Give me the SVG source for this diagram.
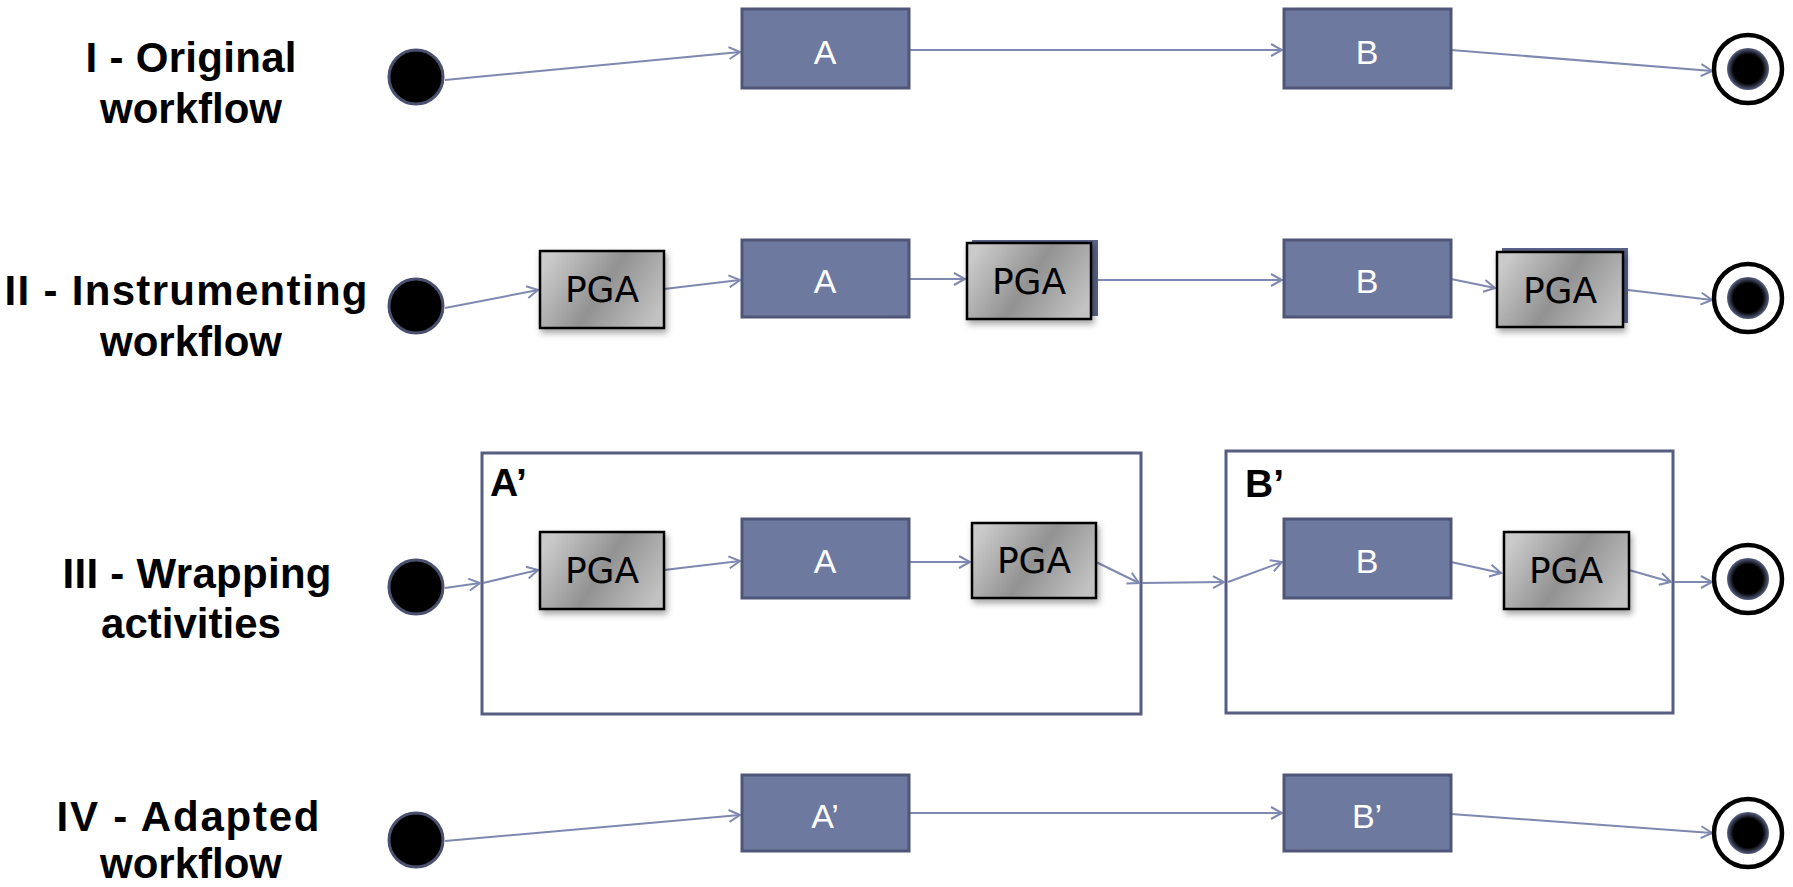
<svg xmlns="http://www.w3.org/2000/svg" width="1793" height="887" viewBox="0 0 1793 887">
<defs>
<linearGradient id="pgaGrad" x1="0" y1="0.3" x2="1" y2="0.7">
<stop offset="0" stop-color="#cacaca"/>
<stop offset="0.5" stop-color="#929292"/>
<stop offset="1" stop-color="#c2c2c2"/>
</linearGradient>
<radialGradient id="dotGrad" cx="0.5" cy="0.5" r="0.5">
<stop offset="0.7" stop-color="#000"/>
<stop offset="1" stop-color="#5a6284"/>
</radialGradient>
<filter id="shadow" x="-10%" y="-10%" width="130%" height="140%">
<feDropShadow dx="2" dy="4" stdDeviation="3" flood-color="#000" flood-opacity="0.35"/>
</filter>
<marker id="arr" markerUnits="userSpaceOnUse" markerWidth="14" markerHeight="14" refX="12" refY="7" orient="auto" viewBox="0 0 14 14">
<path d="M1,1 L12,7 L1,13" fill="none" stroke="#7f88b0" stroke-width="2"/>
</marker>
</defs>
<style>
.lbl{font-family:"Liberation Sans",Arial,sans-serif;font-weight:bold;font-size:42px;fill:#000;text-anchor:middle}
.cl{font-family:"Liberation Sans",Arial,sans-serif;font-weight:bold;font-size:39px;fill:#000}
.act rect{fill:#6e79a0;stroke:#4f5678;stroke-width:3}
.act text{font-family:"Liberation Sans",Arial,sans-serif;font-size:34px;fill:#fff;text-anchor:middle}
.pga rect.g{fill:url(#pgaGrad);stroke:#000;stroke-width:2.5;filter:url(#shadow)}
.pga rect.b{fill:#5a6388}
.pga text{font-family:"DejaVu Sans","Liberation Sans",sans-serif;font-size:36px;fill:#000;text-anchor:middle}
.start{fill:#000;stroke:#4a506e;stroke-width:3}
.endo{fill:#fff;stroke:#000;stroke-width:4.5}
.endi{fill:url(#dotGrad)}
.cont{fill:none;stroke:#565d80;stroke-width:3}
.conn path{fill:none;stroke:#7f88b0;stroke-width:2;marker-end:url(#arr)}
</style>
<rect width="1793" height="887" fill="#fff"/>

<g id="labels">
<text class="lbl" x="191" y="72" textLength="211">I - Original</text>
<text class="lbl" x="191" y="123">workflow</text>
<text class="lbl" x="186" y="305" textLength="363">II - Instrumenting</text>
<text class="lbl" x="191" y="356">workflow</text>
<text class="lbl" x="197" y="588" textLength="269">III - Wrapping</text>
<text class="lbl" x="191" y="638">activities</text>
<text class="lbl" x="188" y="831" textLength="263">IV - Adapted</text>
<text class="lbl" x="191" y="878">workflow</text>
</g>

<g id="container-A-prime"><rect class="cont" x="482" y="453" width="659" height="261"/><text class="cl" x="490" y="496">A’</text></g>
<g id="container-B-prime"><rect class="cont" x="1226" y="451" width="447" height="262"/><text class="cl" x="1245" y="497">B’</text></g>

<g id="connectors" class="conn">
<path d="M445,80 L740,52"/>
<path d="M909,50 L1282,50"/>
<path d="M1451,50 L1712,71"/>
<path d="M445,308 L538,290"/>
<path d="M664,289 L740,280"/>
<path d="M909,279 L965,279"/>
<path d="M1096,280 L1282,280"/>
<path d="M1451,279 L1495,288"/>
<path d="M1628,290 L1712,300"/>
<path d="M445,588 L480,583"/>
<path d="M483,583 L538,570"/>
<path d="M664,570 L740,561"/>
<path d="M909,562 L970,562"/>
<path d="M1096,562 L1139,583"/>
<path d="M1142,583 L1224,582"/>
<path d="M1228,582 L1282,562"/>
<path d="M1451,562 L1501,573"/>
<path d="M1629,570 L1671,582"/>
<path d="M1674,582 L1712,582"/>
<path d="M445,841 L740,815"/>
<path d="M909,813 L1282,813"/>
<path d="M1451,814 L1712,833"/>
</g>

<g id="start1"><circle class="start" cx="416" cy="77" r="27"/></g>
<g id="start2"><circle class="start" cx="416" cy="306" r="27"/></g>
<g id="start3"><circle class="start" cx="416" cy="587" r="27"/></g>
<g id="start4"><circle class="start" cx="416" cy="840" r="27"/></g>

<g id="end1"><circle class="endo" cx="1748" cy="69" r="34"/><circle class="endi" cx="1748" cy="69" r="21"/></g>
<g id="end2"><circle class="endo" cx="1748" cy="298" r="34"/><circle class="endi" cx="1748" cy="298" r="21"/></g>
<g id="end3"><circle class="endo" cx="1748" cy="579" r="34"/><circle class="endi" cx="1748" cy="579" r="21"/></g>
<g id="end4"><circle class="endo" cx="1748" cy="833" r="34"/><circle class="endi" cx="1748" cy="833" r="21"/></g>

<g id="A1" class="act"><rect x="742" y="9" width="167" height="79"/><text x="825" y="64">A</text></g>
<g id="B1" class="act"><rect x="1284" y="9" width="167" height="79"/><text x="1367" y="64">B</text></g>
<g id="A2" class="act"><rect x="742" y="240" width="167" height="77"/><text x="825" y="293">A</text></g>
<g id="B2" class="act"><rect x="1284" y="240" width="167" height="77"/><text x="1367" y="293">B</text></g>
<g id="A3" class="act"><rect x="742" y="519" width="167" height="79"/><text x="825" y="573">A</text></g>
<g id="B3" class="act"><rect x="1284" y="519" width="167" height="79"/><text x="1367" y="573">B</text></g>
<g id="A4" class="act"><rect x="742" y="775" width="167" height="76"/><text x="825" y="828">A’</text></g>
<g id="B4" class="act"><rect x="1284" y="775" width="167" height="76"/><text x="1367" y="828">B’</text></g>

<g id="PGA1" class="pga"><rect class="g" x="540" y="251" width="124" height="77"/><text x="602" y="302">PGA</text></g>
<g id="PGA2" class="pga"><rect class="b" x="972" y="240" width="126" height="76"/><rect class="g" x="967" y="243" width="124" height="76"/><text x="1029" y="294">PGA</text></g>
<g id="PGA3" class="pga"><rect class="b" x="1502" y="248" width="126" height="75"/><rect class="g" x="1497" y="252" width="126" height="75"/><text x="1560" y="303">PGA</text></g>
<g id="PGA4" class="pga"><rect class="g" x="540" y="532" width="124" height="77"/><text x="602" y="583">PGA</text></g>
<g id="PGA5" class="pga"><rect class="g" x="972" y="523" width="124" height="75"/><text x="1034" y="573">PGA</text></g>
<g id="PGA6" class="pga"><rect class="g" x="1504" y="532" width="125" height="77"/><text x="1566" y="583">PGA</text></g>
</svg>
